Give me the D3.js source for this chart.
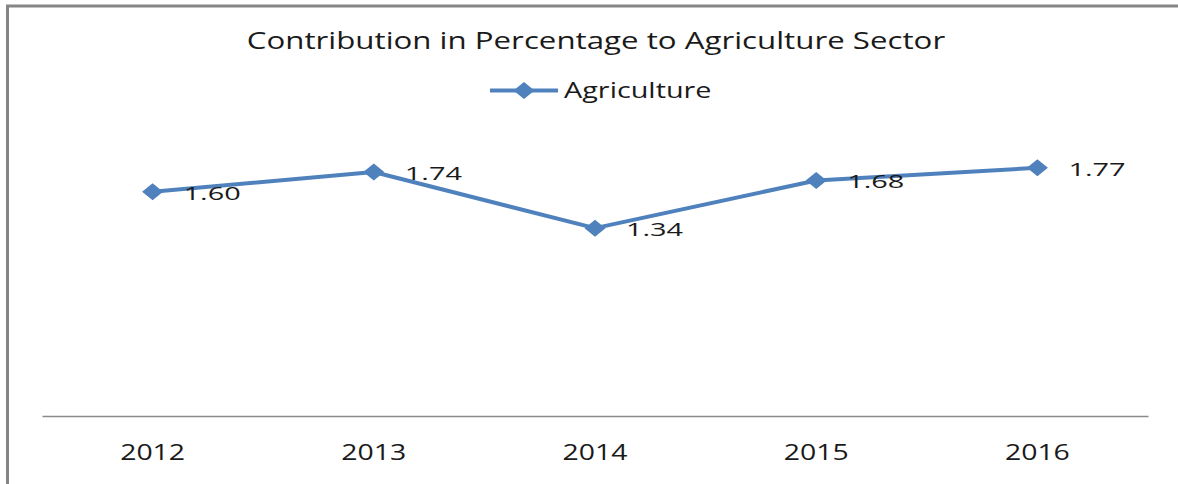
<!DOCTYPE html>
<html>
<head>
<meta charset="utf-8">
<script src="https://cdn.jsdelivr.net/npm/d3@7/dist/d3.min.js"></script>
<style>
  html, body { margin: 0; padding: 0; background: #fff; }
  svg { display: block; }
  text { font-family: "Open Sans", "DejaVu Sans", sans-serif; fill: #1a1a1a; }
</style>
</head>
<body>
<svg id="chart" width="1178" height="484"></svg>
<script>
// Contribution (%) of the agriculture sector by year
const years = ["2012", "2013", "2014", "2015", "2016"];
const agriculture = [1.60, 1.74, 1.34, 1.68, 1.77];
const seriesName = "Agriculture";
const chartTitle = "Contribution in Percentage to Agriculture Sector";

const W = 1178, H = 484;
const plot = { left: 42, right: 1148, top: 135.6, bottom: 416 };
const blue = "#4f81bd";
const stretch = 1.31;   // wide rendering of the chart font

const svg = d3.select("#chart");

// chart area frame (left and top edges visible)
svg.append("path")
  .attr("d", `M7.5,${H + 10}V6H${W + 10}`)
  .attr("fill", "none")
  .attr("stroke", "#858585")
  .attr("stroke-width", 3);

const x = d3.scaleBand().domain(years).range([plot.left, plot.right]);
const y = d3.scaleLinear().domain([0, 2]).range([plot.bottom, plot.top]);

// title
svg.append("text")
  .attr("transform", `translate(596,49) scale(1.33,1)`)
  .attr("text-anchor", "middle")
  .style("font-size", "23.5px")
  .text(chartTitle);

// category axis
const xAxis = svg.append("g")
  .attr("transform", `translate(0,${plot.bottom})`)
  .call(d3.axisBottom(x).tickSize(0).tickPadding(0));
xAxis.select(".domain").attr("stroke", "#8a8a8a").attr("stroke-width", 1.5);
xAxis.selectAll(".tick text").remove();
xAxis.selectAll(".tick").append("text")
  .attr("transform", `translate(0,44) scale(1.29,1)`)
  .attr("text-anchor", "middle")
  .style("font-size", "22px")
  .text(d => d);

// diamond marker
const diamond = (cx, cy, hw, hh) =>
  `M${cx},${cy - hh}L${cx + hw},${cy}L${cx},${cy + hh}L${cx - hw},${cy}Z`;

const pts = years.map((yr, i) => ({ yr, v: agriculture[i],
  px: x(yr) + x.bandwidth() / 2, py: y(agriculture[i]) }));

svg.append("path")
  .datum(pts)
  .attr("fill", "none")
  .attr("stroke", blue)
  .attr("stroke-width", 4)
  .attr("stroke-linejoin", "round")
  .attr("d", d3.line().x(d => d.px).y(d => d.py));

svg.selectAll(".marker").data(pts).join("path")
  .attr("class", "marker")
  .attr("fill", blue)
  .attr("d", d => diamond(d.px, d.py, 10.5, 8.5));

// value labels, to the right of each point
svg.selectAll(".val").data(pts).join("text")
  .attr("class", "val")
  .attr("transform", d => `translate(${d.px + 31},${d.py + 8}) scale(1.52,1)`)
  .style("font-size", "19px")
  .text(d => d.v.toFixed(2));

// legend
const lg = svg.append("g");
lg.append("line")
  .attr("x1", 490).attr("x2", 558).attr("y1", 90.5).attr("y2", 90.5)
  .attr("stroke", blue).attr("stroke-width", 4);
lg.append("path").attr("fill", blue).attr("d", diamond(524, 90.5, 10.5, 8.5));
lg.append("text")
  .attr("transform", `translate(564,98) scale(${stretch},1)`)
  .style("font-size", "22px")
  .text(seriesName);
</script>
</body>
</html>
